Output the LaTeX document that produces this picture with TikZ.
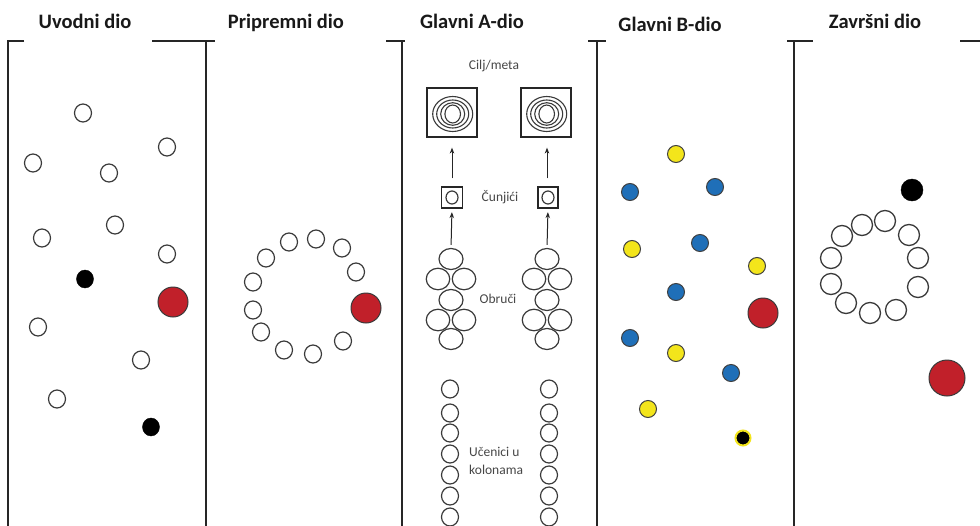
\documentclass[tikz,border=0pt]{standalone}
\usepackage{fontspec}
\setmainfont{Carlito}
\usetikzlibrary{shapes.geometric,arrows.meta}
\definecolor{ring}{HTML}{3A3A3A}
\definecolor{pred}{HTML}{C1202A}
\definecolor{pblue}{HTML}{1F6FB8}
\definecolor{pyel}{HTML}{F3E51B}
\tikzset{
  panel/.style={line width=1.6pt, draw=black!85},
  title/.style={font=\bfseries\fontsize{20.5}{24}\selectfont, anchor=base, text=black!90, inner sep=0pt},
  lbl/.style={font=\fontsize{13.5}{18}\selectfont, text=black!72, inner sep=0pt},
  pupil/.style={ellipse, draw=ring, line width=1.2pt, fill=white, minimum width=17pt, minimum height=18pt, inner sep=0pt},
  bigpupil/.style={circle, draw=ring, line width=1.3pt, fill=white, minimum size=21pt, inner sep=0pt},
  blackp/.style={ellipse, draw=black, fill=black, minimum width=17pt, minimum height=18pt, inner sep=0pt},
  redp/.style={circle, draw=ring, line width=1pt, fill=pred, minimum size=30pt, inner sep=0pt},
  bluep/.style={circle, draw=black!75, line width=1pt, fill=pblue, minimum size=17pt, inner sep=0pt},
  yelp/.style={circle, draw=black!75, line width=1pt, fill=pyel, minimum size=17pt, inner sep=0pt},
  hoop/.style={ellipse, draw=ring, line width=1.2pt, minimum width=24pt, minimum height=21pt, inner sep=0pt},
  targetbox/.style={rectangle, draw=black!85, line width=1.2pt, minimum width=50pt, minimum height=49pt, inner sep=0pt},
  conebox/.style={rectangle, draw=black!85, line width=1.2pt, minimum width=21pt, minimum height=21pt, inner sep=0pt},
  cone/.style={ellipse, draw=ring, line width=1.2pt, minimum width=12pt, minimum height=13pt, inner sep=0pt},
  ringline/.style={draw=ring, line width=1.1pt},
  uparrow/.style={-{Stealth[length=6pt,width=4.5pt]}, draw=black!85, line width=1pt},
}
\begin{document}
\begin{tikzpicture}[x=1pt,y=-1pt]
\useasboundingbox (0,0) rectangle (980,525);
\fill[white] (0,0) rectangle (980,525);

% panel frame lines
\draw[panel] (24,41) -- (8,41) -- (8,526);
\draw[panel] (152,41) -- (215,41);
\draw[panel] (206,41) -- (206,526);
\draw[panel] (386,41) -- (405,41);
\draw[panel] (402,41) -- (402,526);
\draw[panel] (588,41) -- (606,41);
\draw[panel] (597,41) -- (597,526);
\draw[panel] (787,41) -- (813,41);
\draw[panel] (794,41) -- (794,526);
\draw[panel] (960,41) -- (981,41);

% titles
\node[title] (tu) at (85,28) {Uvodni dio};
\node[title] (tp) at (286,28) {Pripremni dio};
\node[title] (ta) at (472,28) {Glavni A-dio};
\node[title] (tb) at (670,31) {Glavni B-dio};
\node[title] (tz) at (875,28) {Završni dio};

% ---------- Uvodni dio ----------
\foreach \x/\y [count=\i] in {83/113,167/147,33/163,109/173,115/225,42/238,167/254,38/327,141/360,57/399}
  \node[pupil] (u\i) at (\x,\y) {};
\node[blackp] (ub1) at (85,279) {};
\node[blackp] (ub2) at (151,427) {};
\node[redp] (ur) at (173,302) {};

% ---------- Pripremni dio ----------
\foreach \x/\y [count=\i] in {289/242,316/239,342/248,356/272,266/258,253/282,253/310,261/332,284/350,313/354,343/341}
  \node[pupil] (p\i) at (\x,\y) {};
\node[redp] (pr) at (366,308) {};

% ---------- Glavni A-dio ----------
\node[lbl] (lcilj) at (494,66) {Cilj/meta};
\foreach \n/\x in {1/452,2/546} {
  \node[targetbox] (t\n) at (\x,112.5) {};
  \draw[ringline] ([xshift=0.7pt,yshift=-1.5pt]t\n.center) ellipse [x radius=20, y radius=17.5];
  \draw[ringline] ([xshift=0.7pt,yshift=-1.5pt]t\n.center) ellipse [x radius=16, y radius=14];
  \draw[ringline] ([xshift=0.7pt,yshift=-1.5pt]t\n.center) ellipse [x radius=12, y radius=11.3];
  \draw[ringline] ([xshift=0.7pt,yshift=-1.5pt]t\n.center) ellipse [x radius=7.8, y radius=9];
}
\node[conebox] (c1) at (452,197.5) {};
\node[cone] (c1i) at (452,197.5) {};
\node[conebox, minimum width=20pt] (c2) at (548,197.5) {};
\node[cone] (c2i) at (548,197.5) {};
\node[lbl] (lcun) at (500,197) {Čunjići};

\draw[uparrow, shorten <=8pt, shorten >=10pt] (c1.north) -- (t1.south);
\draw[uparrow, shorten <=8pt, shorten >=10pt] ([xshift=-1pt]c2.north) -- ([xshift=1pt]t2.south);

% hoops
\foreach \n/\x in {1/451,2/547} {
  \node[hoop] (h\n a) at (\x,259) {};
  \node[hoop, minimum width=23.5pt, minimum height=21.5pt] (h\n b) at (\x-13,279) {};
  \node[hoop, minimum width=23.5pt, minimum height=21.5pt] (h\n c) at (\x+13,279) {};
  \node[hoop] (h\n d) at (\x,300) {};
  \node[hoop, minimum width=23.5pt, minimum height=21.5pt] (h\n e) at (\x-13,320) {};
  \node[hoop, minimum width=23.5pt, minimum height=21.5pt] (h\n f) at (\x+13,320) {};
  \node[hoop] (h\n g) at (\x,339) {};
}
\node[lbl] (lobr) at (498,299) {Obruči};
\draw[uparrow, shorten <=3pt, shorten >=3.5pt] (h1a.north) -- (c1.south);
\draw[uparrow, shorten <=3pt, shorten >=3.5pt] (h2a.north) -- (c2.south);

% students in columns
\foreach \y [count=\i] in {389,413,433,454,475,496,517} {
  \node[pupil] (sl\i) at (450,\y) {};
  \node[pupil] (sr\i) at (549,\y) {};
}
\node[lbl, anchor=west, align=left] (lucen) at (469,461) {Učenici u\\kolonama};

% ---------- Glavni B-dio ----------
\foreach \x/\y [count=\i] in {676/154,632/249,757/266,676/353,648/409}
  \node[yelp] (by\i) at (\x,\y) {};
\foreach \x/\y [count=\i] in {630/192,715/187,700/243,676/292,630/338,731/373}
  \node[bluep] (bb\i) at (\x,\y) {};
\node[redp] (br) at (763,313) {};
\node[circle, fill=black, draw=pyel, line width=2pt, minimum size=15pt, inner sep=0pt] (bk) at (743,438) {};

% ---------- Zavrsni dio ----------
\node[circle, fill=black, draw=black, minimum size=22pt, inner sep=0pt] (zb) at (912,190) {};
\foreach \x/\y [count=\i] in {885/221,862/225,842/236,831/258,831/284,846/303,870/313,896/310,918/287,918/258,909/235}
  \node[bigpupil] (z\i) at (\x,\y) {};
\node[redp, minimum size=36pt] (zr) at (947,378) {};
\end{tikzpicture}
\end{document}
